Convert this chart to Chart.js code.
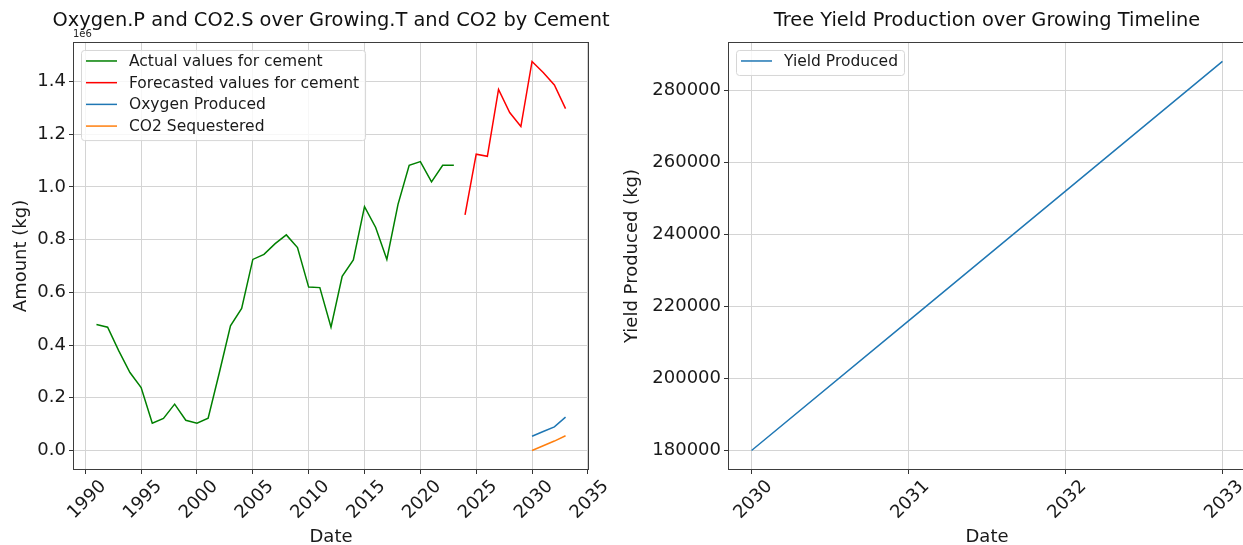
<!DOCTYPE html>
<html>
<head>
<meta charset="utf-8">
<script src="https://cdn.jsdelivr.net/npm/chart.js@4.4.1/dist/chart.umd.min.js"></script>
<style>
  html, body { margin: 0; padding: 0; background: #fff; overflow: hidden; }
  #wrap { position: relative; width: 1243px; height: 545px; overflow: hidden; background: #fff; }
  canvas { position: absolute; top: 0; }
  #left { left: 0; }
  #right { left: 620px; }
</style>
</head>
<body>
<div id="wrap">
  <canvas id="left" width="620" height="545"></canvas>
  <canvas id="right" width="630" height="545"></canvas>
</div>
<script>
// === Data (kg) ===
const actualYears = [1991, 1992, 1993, 1994, 1995, 1996, 1997, 1998, 1999, 2000, 2001,
  2002, 2003, 2004, 2005, 2006, 2007, 2008, 2009, 2010, 2011, 2012,
  2013, 2014, 2015, 2016, 2017, 2018, 2019, 2020, 2021, 2022, 2023];
const actualCement = [478000, 468000, 378000, 296000, 239000, 104000, 122000, 176000, 115000, 104000, 123000,
  295000, 473000, 539000, 725000, 744000, 785000, 818000, 770000, 620000, 618000, 468000,
  661000, 723000, 925000, 846000, 725000, 934000, 1082000, 1096000, 1019000, 1082000, 1082000];
const forecastYears = [2024, 2025, 2026, 2027, 2028, 2029, 2030, 2031, 2032, 2033];
const forecastCement = [894000, 1124000, 1116000, 1370000, 1282000, 1229000, 1476000, 1434000, 1387000, 1297000];
const growYears = [2030, 2031, 2032, 2033];
const oxygenProduced = [54000, 72000, 90000, 127000];
const co2Sequestered = [0, 18000, 36000, 56000];
const yieldProduced = [180000, 216000, 252000, 288000];

// === Tick labels ===
const leftXTicks = [1990, 1995, 2000, 2005, 2010, 2015, 2020, 2025, 2030, 2035];
const leftYTicks = [0, 200000, 400000, 600000, 800000, 1000000, 1200000, 1400000];
const rightXTicks = [2030, 2031, 2032, 2033];
const rightYTicks = [180000, 200000, 220000, 240000, 260000, 280000];

Chart.defaults.font.family = '"DejaVu Sans", sans-serif';
Chart.defaults.color = '#1a1a1a';

const pts = (xs, ys) => xs.map((x, i) => ({ x, y: ys[i] }));

// spines, offset text and matplotlib-style legend box
const framePlugin = {
  id: 'frame',
  afterLayout(chart) {
    // let the title run wider than the plot, still centred on it
    const t = chart.titleBlock;
    if (t) {
      const cx = (t.left + t.right) / 2;
      t.left = cx - 310;
      t.right = cx + 310;
      t.width = 620;
    }
  },
  afterDatasetsDraw(chart, args, opts) {
    const { ctx, chartArea: a } = chart;
    ctx.save();
    ctx.strokeStyle = '#3d3d3d';
    ctx.lineWidth = 1;
    ctx.strokeRect(Math.round(a.left) + 0.5, Math.round(a.top) + 0.5,
      Math.round(a.right - a.left) - 1, Math.round(a.bottom - a.top) - 1);

    if (opts.offsetText) {
      ctx.font = '10px "DejaVu Sans"';
      ctx.fillStyle = '#222';
      ctx.textAlign = 'left';
      ctx.textBaseline = 'bottom';
      ctx.fillText(opts.offsetText, a.left, a.top - 3);
    }

    // legend
    const items = chart.data.datasets;
    ctx.font = '15.5px "DejaVu Sans"';
    const textW = Math.max(...items.map(d => ctx.measureText(d.label).width));
    const x0 = a.left + 8, y0 = a.top + 8;
    const rowH = 21.7, handle = 31, gap = 12;
    const w = 5 + handle + gap + textW + 6;
    const h = 25 + (items.length - 1) * rowH;
    ctx.beginPath();
    ctx.roundRect(x0 + 0.5, y0 + 0.5, w, h, 3);
    ctx.fillStyle = 'rgba(255,255,255,0.8)';
    ctx.fill();
    ctx.strokeStyle = '#d6d6d6';
    ctx.stroke();
    items.forEach((d, i) => {
      const cy = y0 + 11 + i * rowH;
      ctx.beginPath();
      ctx.moveTo(x0 + 5, cy);
      ctx.lineTo(x0 + 5 + handle, cy);
      ctx.strokeStyle = d.borderColor;
      ctx.lineWidth = 1.5;
      ctx.stroke();
      ctx.fillStyle = '#1a1a1a';
      ctx.textAlign = 'left';
      ctx.textBaseline = 'middle';
      ctx.fillText(d.label, x0 + 5 + handle + gap, cy + 1);
    });
    ctx.restore();
  }
};

function axisX(min, max, tickVals) {
  return {
    type: 'linear', min, max,
    afterBuildTicks: s => { s.ticks = tickVals.map(v => ({ value: v })); },
    afterFit: s => { s.height = 75; },
    border: { display: false },
    grid: { color: '#d4d4d4', lineWidth: 1, drawTicks: true, tickLength: 4, tickColor: '#333' },
    ticks: {
      autoSkip: false, minRotation: 45, maxRotation: 45, labelOffset: 18, padding: 2,
      font: { size: 18 }, color: '#1a1a1a',
      callback: v => String(v)
    },
    title: { display: true, text: 'Date', font: { size: 18, lineHeight: 1 }, padding: { top: 0, bottom: -1 }, color: '#1a1a1a' }
  };
}

function axisY(min, max, tickVals, width, fmt, label, titlePad) {
  return {
    type: 'linear', min, max,
    afterBuildTicks: s => { s.ticks = tickVals.map(v => ({ value: v })); },
    afterFit: s => { s.width = width; },
    border: { display: false },
    grid: { color: '#d4d4d4', lineWidth: 1, drawTicks: true, tickLength: 4, tickColor: '#333' },
    ticks: { font: { size: 18 }, color: '#1a1a1a', padding: 3, callback: fmt },
    title: { display: true, text: label, font: { size: 18, lineHeight: 1 }, padding: { top: titlePad, bottom: 0 }, color: '#1a1a1a' }
  };
}

const lineDefaults = { pointRadius: 0, borderWidth: 1.5, tension: 0, fill: false };
const titleFont = { size: 19.4, weight: 'normal', lineHeight: 1.2 };
const titlePad = { top: 9, bottom: 9.7 };

new Chart(document.getElementById('left'), {
  type: 'line',
  data: {
    datasets: [
      { ...lineDefaults, label: 'Actual values for cement', data: pts(actualYears, actualCement), borderColor: '#008000' },
      { ...lineDefaults, label: 'Forecasted values for cement', data: pts(forecastYears, forecastCement), borderColor: '#ff0000' },
      { ...lineDefaults, label: 'Oxygen Produced', data: pts(growYears, oxygenProduced), borderColor: '#1f77b4' },
      { ...lineDefaults, label: 'CO2 Sequestered', data: pts(growYears, co2Sequestered), borderColor: '#ff7f0e' }
    ]
  },
  options: {
    responsive: false,
    animation: false,
    layout: { padding: { left: 0, right: 31, top: 0, bottom: 0 } },
    plugins: {
      legend: { display: false },
      tooltip: { enabled: false },
      title: {
        display: true, fullSize: false,
        text: 'Oxygen.P and CO2.S over Growing.T and CO2 by Cement',
        font: titleFont, color: '#111', padding: titlePad
      },
      frame: { offsetText: '1e6' }
    },
    scales: {
      x: axisX(1988.9, 2035.1, leftXTicks),
      y: axisY(-73800, 1549800, leftYTicks, 73, v => (v / 1e6).toFixed(1), 'Amount (kg)', 12)
    }
  },
  plugins: [framePlugin]
});

new Chart(document.getElementById('right'), {
  type: 'line',
  data: {
    datasets: [
      { ...lineDefaults, label: 'Yield Produced', data: pts(growYears, yieldProduced), borderColor: '#1f77b4' }
    ]
  },
  options: {
    responsive: false,
    animation: false,
    layout: { padding: { left: 0, right: 4, top: 0, bottom: 0 } },
    plugins: {
      legend: { display: false },
      tooltip: { enabled: false },
      title: {
        display: true, fullSize: false,
        text: 'Tree Yield Production over Growing Timeline',
        font: titleFont, color: '#111', padding: titlePad
      },
      frame: {}
    },
    scales: {
      x: axisX(2029.85, 2033.15, rightXTicks),
      y: axisY(174600, 293400, rightYTicks, 108, v => String(v), 'Yield Produced (kg)', 3)
    }
  },
  plugins: [framePlugin]
});
</script>
</body>
</html>
